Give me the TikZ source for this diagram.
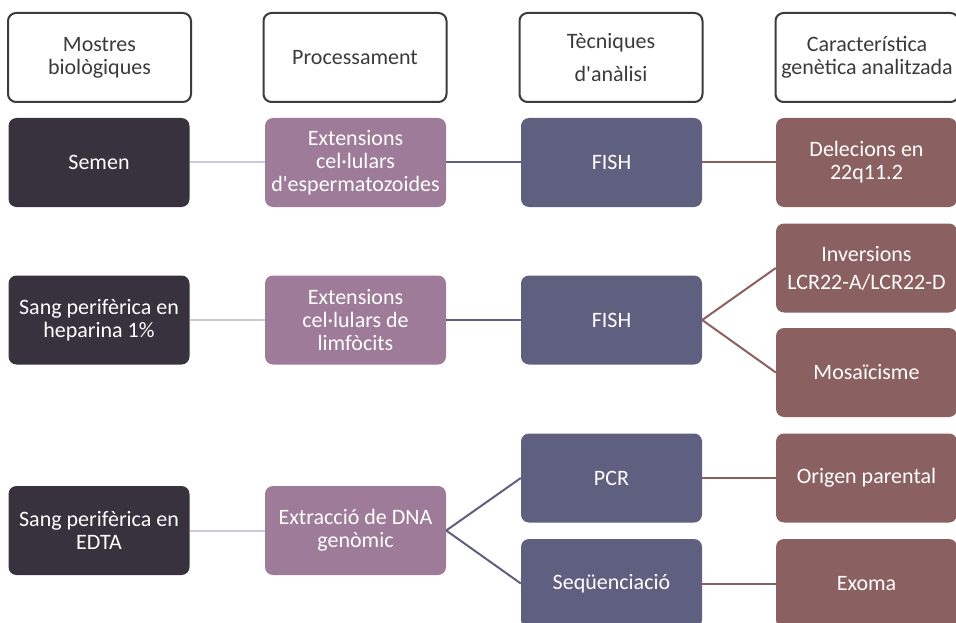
\documentclass[tikz,border=0pt]{standalone}
\usepackage{fontspec}
\setmainfont{Carlito}
\usepackage{tikz}
\usetikzlibrary{positioning,calc}
\definecolor{headline}{HTML}{3B3B3B}
\definecolor{samp}{HTML}{38323F}
\definecolor{proc}{HTML}{9E7B98}
\definecolor{tech}{HTML}{5F5F80}
\definecolor{feat}{HTML}{8B6060}
\definecolor{pale}{HTML}{C9C8DC}
\def\txt{\fontsize{22}{23}\selectfont}
\def\q{\textquotesingle}
\tikzset{headbox/.style={draw=headline,line width=2pt,rounded corners=8pt,fill=white,minimum width=183pt,minimum height=89pt,inner sep=0pt,align=center,text=headline,font=\txt}  }
\tikzset{colbox/.style={rounded corners=8pt,minimum width=181pt,minimum height=89pt,inner sep=0pt,align=center,text=white,font=\txt}  }
\tikzset{sampbox/.style={colbox,fill=samp}  }
\tikzset{procbox/.style={colbox,fill=proc}  }
\tikzset{techbox/.style={colbox,fill=tech}  }
\tikzset{featbox/.style={colbox,fill=feat}  }
\tikzset{link/.style={line width=2pt}  }

\begin{document}
\begin{tikzpicture}[x=1pt,y=-1pt]
		\useasboundingbox (0,0) rectangle (956,623);
			% capcaleres
			\node[headbox] (h1) at (99.5,57.5) {Mostres\\biològiques};
			\node[headbox] (h2) at (355,57.5) {Processament};
			\node[headbox] (h3) at (611,57.5) {Tècniques\\[10pt]d\q anàlisi};
			\node[headbox] (h4) at (867,57.5) {Característica\\genètica analitzada};

			% semen
			\node[sampbox] (s1) at (99,162.5) {Semen};
			\node[procbox] (p1) at (355.5,162.5) {Extensions\\cel·lulars\\d\q espermatozoides};
			\node[techbox] (t1) at (611.5,162.5) {FISH};
			\node[featbox] (f1) at (866.5,162.5) {Delecions en\\22q11.2};

			% heparina
			\node[sampbox] (s2) at (99,320) {Sang perifèrica en\\heparina 1\%};
			\node[procbox] (p2) at (355.5,320) {Extensions\\cel·lulars de\\limfòcits};
			\node[techbox] (t2) at (611.5,320) {FISH};
			\node[featbox] (f2) at (866.5,268) {Inversions\\[5pt]LCR22-A/LCR22-D};
			\node[featbox] (f3) at (866.5,372.5) {Mosaïcisme};

			% EDTA
			\node[sampbox] (s3) at (99,530.5) {Sang perifèrica en\\EDTA};
			\node[procbox] (p3) at (355.5,530.5) {Extracció de DNA\\genòmic};
			\node[techbox] (t3) at (611.5,478) {PCR};
			\node[techbox] (t4) at (611.5,583.5) {Seqüenciació};
			\node[featbox] (f4) at (866.5,478) {Origen parental};
			\node[featbox] (f5) at (866.5,583.5) {Exoma};

			\draw[link,pale] (s1) -- (p1) (s2) -- (p2) (s3) -- (p3);
			\draw[link,tech] (p1) -- (t1) (p2) -- (t2);
			\draw[link,tech] (p3.east) -- (t3.west) (p3.east) -- (t4.west);
			\draw[link,feat] (t1) -- (f1) (t3) -- (f4) (t4) -- (f5);
			\draw[link,feat] (t2.east) -- (f2.west) (t2.east) -- (f3.west);
	\end{tikzpicture}
\end{document}
